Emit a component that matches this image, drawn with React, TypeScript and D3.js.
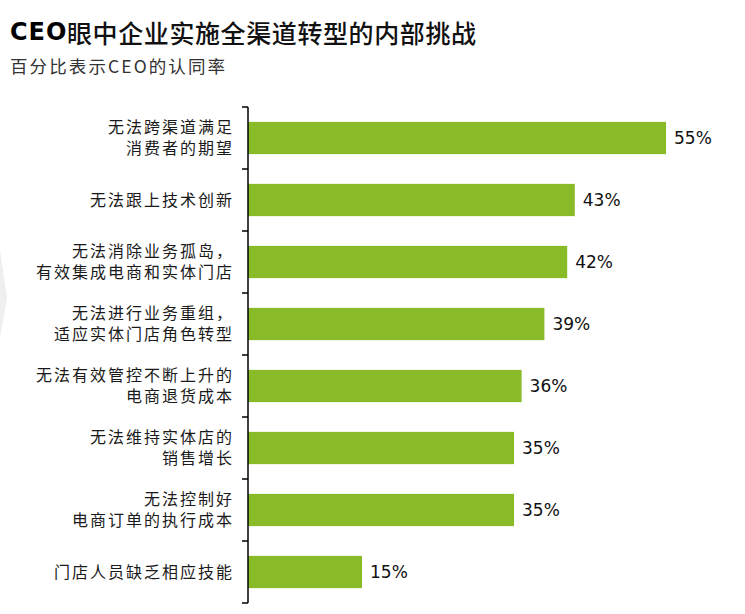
import * as React from "react";
import * as d3 from "d3";

// Data
const categories: string[][] = [
  ["无法跨渠道满足", "消费者的期望"],
  ["无法跟上技术创新"],
  ["无法消除业务孤岛，", "有效集成电商和实体门店"],
  ["无法进行业务重组，", "适应实体门店角色转型"],
  ["无法有效管控不断上升的", "电商退货成本"],
  ["无法维持实体店的", "销售增长"],
  ["无法控制好", "电商订单的执行成本"],
  ["门店人员缺乏相应技能"],
];
const values = [55, 43, 42, 39, 36, 35, 35, 15];

const title = "CEO";
const titleRest = "眼中企业实施全渠道转型的内部挑战";
const subtitle = "百分比表示CEO的认同率";

const width = 745;
const height = 614;
const axisX = 248;
const top = 107;
const bottom = 603;

const cjk = "'Noto Sans CJK SC', 'Noto Sans', sans-serif";

export default function App() {
  const keys = categories.map((c) => c.join(""));

  const xScale = d3.scaleLinear().domain([0, 100]).range([0, 760]);

  const yScale = d3
    .scaleBand<string>()
    .domain(keys)
    .range([top, bottom])
    .paddingInner(0.48)
    .paddingOuter(0.24);

  const step = yScale.step();
  const tickYs = keys.map((k) => (yScale(k) as number) - 0.24 * step);
  tickYs.push(bottom);

  return (
    <svg
      width={width}
      height={height}
      style={{ position: "absolute", left: 0, top: 0 }}
    >
      <rect width={width} height={height} fill="#fff" />
      {/* faint background decoration on the left edge */}
      <polygon points="0,250 7,298 0,338" fill="#efefef" />

      <text x={10} y={40} fontFamily="'DejaVu Sans', sans-serif" fontWeight={900} fontSize={24} letterSpacing={1} fill="#000">
        {title}
      </text>
      <text x={67} y={43} fontFamily={cjk} fontSize={25} fontWeight={500} letterSpacing={0.6} fill="#111">
        {titleRest}
      </text>
      <text x={10} y={73} fontFamily={cjk} fontSize={17.5} letterSpacing={2.1} fill="#333">
        {subtitle}
      </text>

      {keys.map((k, i) => {
        const y0 = yScale(k) as number;
        const cy = y0 + yScale.bandwidth() / 2;
        const lines = categories[i];
        const w = xScale(values[i]);
        return (
          <g key={k}>
            <rect x={axisX} y={y0} width={w} height={yScale.bandwidth()} fill="#89ba28" />
            <text
              x={axisX + w + 8}
              y={cy}
              dy="0.36em"
              fontFamily="'DejaVu Sans', sans-serif"
              fontSize={17}
              fill="#111"
            >
              {values[i]}%
            </text>
            <text
              textAnchor="end"
              fontFamily={cjk}
              fontSize={16}
              letterSpacing={2}
              fill="#1a1a1a"
            >
              {lines.map((line, j) => (
                <tspan
                  key={j}
                  x={234}
                  y={cy + (j - (lines.length - 1) / 2) * 21}
                  dy="0.36em"
                >
                  {line}
                </tspan>
              ))}
            </text>
          </g>
        );
      })}

      <g stroke="#000" strokeWidth={1.5}>
        <line x1={axisX} x2={axisX} y1={top} y2={bottom} />
        {tickYs.map((y, i) => (
          <line key={i} x1={axisX - 6} x2={axisX} y1={y} y2={y} />
        ))}
      </g>
    </svg>
  );
}
